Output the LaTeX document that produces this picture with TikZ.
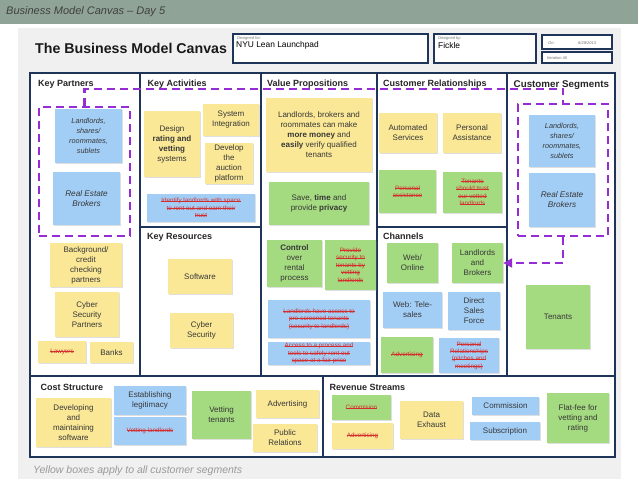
\documentclass[tikz,border=0pt]{standalone}
\usepackage{fontspec}
\setmainfont{Liberation Sans}
\usetikzlibrary{arrows.meta,shadows}
\definecolor{navy}{RGB}{30,52,88}
\definecolor{banner}{RGB}{143,163,150}
\definecolor{paper}{RGB}{240,240,240}
\definecolor{noteyellow}{RGB}{250,232,150}
\definecolor{noteblue}{RGB}{162,206,246}
\definecolor{notegreen}{RGB}{164,218,128}
\definecolor{notetext}{RGB}{55,55,55}
\definecolor{strikered}{RGB}{212,45,45}
\definecolor{grppurple}{RGB}{150,45,212}
\def\topline{73}
\def\midline{376}
\def\botline{457}
\newsavebox\strkbox
\newcommand\strk[1]{\sbox\strkbox{#1}\rlap{\rule[0.28em]{\wd\strkbox}{0.45pt}}\usebox\strkbox}

\begin{document}
\begin{tikzpicture}[x=1pt,y=-1pt,
    note/.style={inner sep=1pt, align=center, text=notetext,
      font=\fontsize{8}{10}\selectfont,
      drop shadow={shadow xshift=0.5pt,shadow yshift=-0.8pt,opacity=0.25}},
    ynote/.style={note, fill=noteyellow},
    bnote/.style={note, fill=noteblue},
    gnote/.style={note, fill=notegreen},
    dims/.style 2 args={minimum width=#1, minimum height=#2},
    gone/.style={text=strikered, font=\fontsize{6.3}{7.4}\selectfont},
    slanted/.style={font=\itshape\fontsize{7.3}{10}\selectfont},
    head/.style={anchor=base west, inner sep=0pt, text=black!85,
      font=\bfseries\fontsize{9}{10}\selectfont},
    infolabel/.style={anchor=base west, inner sep=0pt, text=black!55,
      font=\itshape\fontsize{4}{4.5}\selectfont},
    infobox/.style={draw=navy, line width=1.1pt, fill=white},
    grp/.style={draw=grppurple, line width=2.3pt, dash pattern=on 8pt off 5pt}
  ]
    \useasboundingbox (0,0) rectangle (638,479);
    \fill[white] (0,0) rectangle (638,479);
    \fill[banner] (0,0) rectangle (638,24);
    \fill[paper] (18,28) rectangle (621,479);

    \node[anchor=base west, inner sep=0pt, text=black!75, font=\itshape\fontsize{11}{12}\selectfont] (daytitle) at (6,15) {Business Model Canvas -- Day 5};
    \node[anchor=base west, inner sep=0pt, text=black!90, font=\bfseries\fontsize{14.2}{16}\selectfont] (title) at (35,53.5) {The Business Model Canvas};

    \node[infobox, dims={195}{29}] (forbox) at (330.5,48.5) {};
    \node[infobox, dims={102}{29}] (bybox) at (485,48.5) {};
    \node[infobox, dims={70}{14}] (onbox) at (577,42) {};
    \node[infobox, dims={70}{11}] (itbox) at (577,57.5) {};
    \node[infolabel] (forlbl) at (237,39) {Designed for:};
    \node[anchor=base west, inner sep=0pt, font=\fontsize{8.4}{9}\selectfont] (fortxt) at (236,47.5) {NYU Lean Launchpad};
    \node[infolabel] (bylbl) at (438,39) {Designed by:};
    \node[anchor=base west, inner sep=0pt, font=\fontsize{8.4}{9}\selectfont] (bytxt) at (438,48.5) {Fickle};
    \node[infolabel] (onlbl) at (548,44) {On:};
    \node[infolabel] (ondate) at (578,44) {8/28/2013};
    \node[infolabel] (itlbl) at (547,59.5) {Iteration \#5};

    \draw[navy, line width=2pt, fill=white] (30,\topline) rectangle (615,\botline);
    \draw[navy, line width=1.2pt] (140,\topline) -- (140,\midline);
    \draw[navy, line width=1.2pt] (261,\topline) -- (261,\midline);
    \draw[navy, line width=1.2pt] (377,\topline) -- (377,\midline);
    \draw[navy, line width=1.2pt] (507,\topline) -- (507,\midline);
    \draw[navy, line width=1.2pt] (30,\midline) -- (615,\midline);
    \draw[navy, line width=1.2pt] (140,227) -- (261,227);
    \draw[navy, line width=1.2pt] (377,227) -- (507,227);
    \draw[navy, line width=1.2pt] (323,\midline) -- (323,\botline);

    \node[head] (kphead) at (38,86) {Key Partners};
    \node[head] (kahead) at (147.5,86) {Key Activities};
    \node[head] (vphead) at (267,86) {Value Propositions};
    \node[head] (crhead) at (383,86) {Customer Relationships};
    \node[head, font=\bfseries\fontsize{9.8}{11}\selectfont] (cshead) at (513.5,87) {Customer Segments};
    \node[head] (krhead) at (147,239.5) {Key Resources};
    \node[head] (chhead) at (383,239) {Channels};
    \node[head] (coshead) at (40.5,390.5) {Cost Structure};
    \node[head] (rshead) at (329.5,390.5) {Revenue Streams};

    \node[bnote, slanted, dims={67}{54}] (kpland) at (88.5,136) {Landlords,\\ shares/\\ roommates,\\ sublets};
    \node[bnote, slanted, font=\itshape\fontsize{8.2}{10}\selectfont, dims={67}{53}] (kpbrok) at (86.5,198.5) {Real Estate\\ Brokers};
    \node[ynote, dims={72}{44}] (kpback) at (86,265) {Background/\\ credit\\ checking\\ partners};
    \node[ynote, dims={64}{45}] (kpcyber) at (87,314.5) {Cyber\\ Security\\ Partners};
    \node[ynote, gone, dims={48}{22}] (kplaw) at (62,352) {\strk{Lawyers}};
    \node[ynote, dims={43}{21}] (kpbank) at (111.5,352.5) {Banks};

    \node[ynote, dims={56}{66}] (kadesign) at (172,144) {Design\\ \textbf{rating and}\\ \textbf{vetting}\\ systems};
    \node[ynote, dims={56}{32}] (kasys) at (231,120) {System\\ Integration};
    \node[ynote, dims={48}{41}] (kadev) at (229,163.5) {Develop\\ the\\ auction\\ platform};
    \node[bnote, gone, dims={108}{28}] (kaident) at (201,208) {\strk{Identify landlords with space}\\ \strk{to rent out and earn their}\\ \strk{trust}};

    \node[ynote, dims={64}{35}] (krsoft) at (200,276.5) {Software};
    \node[ynote, dims={63}{35}] (krcyber) at (201.5,330.5) {Cyber\\ Security};

    \node[ynote, dims={106}{74}] (vpmoney) at (319,135) {Landlords, brokers and\\ roommates can make\\ \textbf{more money} and\\ \textbf{easily} verify qualified\\ tenants};
    \node[gnote, dims={100}{43}] (vpsave) at (319,203.5) {Save, \textbf{time} and\\ provide \textbf{privacy}};
    \node[gnote, dims={55}{47}] (vpcontrol) at (294.5,263.5) {\textbf{Control}\\ over\\ rental\\ process};
    \node[gnote, gone, dims={51}{50}] (vpsecure) at (350.5,265) {\strk{Provide}\\ \strk{security to}\\ \strk{tenants by}\\ \strk{vetting}\\ \strk{landlords}};
    \node[bnote, gone, dims={102}{38}] (vpaccess) at (319,319) {\strk{Landlords have access to}\\ \strk{pre-screened tenants}\\ \strk{(security to landlords)}};
    \node[bnote, gone, dims={102}{23}] (vpprocess) at (319,353.5) {\strk{Access to a process and}\\ \strk{tools to safely rent out}\\ \strk{space at a fair price}};

    \node[ynote, dims={58}{40}] (crauto) at (408,133) {Automated\\ Services};
    \node[ynote, dims={58}{40}] (crpers) at (472,133) {Personal\\ Assistance};
    \node[gnote, gone, dims={57}{43}] (crassist) at (407.5,191.5) {\strk{Personal}\\ \strk{assistance}};
    \node[gnote, gone, dims={59}{41}] (crtrust) at (472.5,192.5) {\strk{Tenants}\\ \strk{should trust}\\ \strk{our vetted}\\ \strk{landlords}};

    \node[gnote, dims={51}{40}] (chweb) at (412.5,263) {Web/\\ Online};
    \node[gnote, dims={51}{40}] (chlb) at (477.5,263) {Landlords\\ and\\ Brokers};
    \node[bnote, dims={59}{36}] (chtele) at (412.5,310) {Web: Tele-\\ sales};
    \node[bnote, dims={52}{38}] (chdirect) at (474,311) {Direct\\ Sales\\ Force};
    \node[gnote, gone, dims={52}{36}] (chadv) at (407,355) {\strk{Advertising}};
    \node[bnote, gone, dims={60}{35}] (chrel) at (469,355.5) {\strk{Personal}\\ \strk{Relationships}\\ \strk{(pitches and}\\ \strk{meetings)}};

    \node[bnote, slanted, dims={66}{52}] (csland) at (562,141) {Landlords,\\ shares/\\ roommates,\\ sublets};
    \node[bnote, slanted, font=\itshape\fontsize{8.2}{10}\selectfont, dims={66}{54}] (csbrok) at (562,200) {Real Estate\\ Brokers};
    \node[gnote, dims={64}{64}] (cstenant) at (558,317) {Tenants};

    \node[ynote, dims={75}{49}] (cosdev) at (73.5,422.5) {Developing\\ and\\ maintaining\\ software};
    \node[bnote, dims={72}{29}] (coslegit) at (150,400.5) {Establishing\\ legitimacy};
    \node[bnote, gone, dims={72}{28}] (cosvet) at (150,431) {\strk{Vetting landlords}};
    \node[gnote, dims={59}{48}] (costen) at (221.5,415) {Vetting\\ tenants};
    \node[ynote, dims={63}{28}] (cosadv) at (287.5,404) {Advertising};
    \node[ynote, dims={64}{28}] (cospr) at (285,438) {Public\\ Relations};

    \node[gnote, gone, dims={59}{25}] (rscommi) at (361.5,407.5) {\strk{Commision}};
    \node[ynote, gone, dims={61}{26}] (rsadv) at (362.5,436) {\strk{Advertising}};
    \node[ynote, dims={63}{38}] (rsdata) at (431.5,420) {Data\\ Exhaust};
    \node[bnote, dims={67}{18}] (rscomm) at (505.5,406) {Commission};
    \node[bnote, dims={70}{18}] (rssub) at (505,431) {Subscription};
    \node[gnote, dims={62}{50}] (rsflat) at (578,418) {Flat-fee for\\ vetting and\\ rating};

    \node[grp, dims={91}{129}] (lgrp) at (84.5,171.5) {};
    \node[grp, dims={90}{132}] (rgrp) at (563,170) {};
    \draw[grp] (lgrp.north) -- ++(0,-17) -| (rgrp.north);
    \draw[grp, -{Triangle[length=9pt,width=9pt]}] (rgrp.south) |- (chlb.east);

    \node[anchor=base west, inner sep=0pt, text=black!40, font=\itshape\fontsize{10.5}{12}\selectfont] (caption) at (33,473) {Yellow boxes apply to all customer segments};
  \end{tikzpicture}
\end{document}
